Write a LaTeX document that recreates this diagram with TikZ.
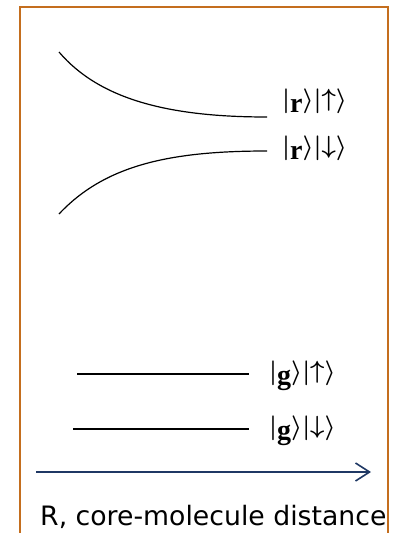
\documentclass[tikz,border=0pt]{standalone}
\usepackage{fontspec}
\setmainfont{Liberation Serif}
\newfontfamily\capfont{DejaVu Sans}
\usetikzlibrary{positioning,arrows.meta,calc}

\definecolor{framebrown}{RGB}{196,110,30}
\definecolor{axisblue}{RGB}{31,56,100}

% |x>|s>
\newcommand{\brk}[1]{\raisebox{.16em}{\fontsize{23}{26}\selectfont$#1$}}
\newcommand{\spinarr}[1]{\raisebox{.19em}{\fontsize{25}{28}\selectfont$#1$}}
\newcommand{\twoket}[2]{\brk{|}#1\brk{\rangle}\brk{|}\spinarr{#2}\brk{\rangle}}

\begin{document}
\begin{tikzpicture}[
    x=1pt, y=-1pt,
    level/.style={line width=1.2pt, black},
    ket/.style={
        font=\fontsize{28}{30}\selectfont\bfseries\boldmath,
        anchor=base west,
        inner sep=0pt
    },
    axis/.style={-{Straight Barb[length=14pt,width=18pt,line width=1.6pt]}, line width=1.8pt, axisblue},
    caption/.style={font=\capfont\fontsize{26.7}{30}\selectfont, inner sep=0pt}
]
\useasboundingbox (0,0) rectangle (396,533);

% ============================================================
% RAMKA
% ============================================================
\draw[framebrown, line width=2pt] (19.5,540) -- (19.5,7) -- (388,7) -- (388,540);

% ============================================================
% STANY WZBUDZONE
% ============================================================
\node[ket] (rup) at (282,112) {\twoket{r}{\uparrow}};
\node[ket] (rdown) at (282,159) {\twoket{r}{\downarrow}};

\draw[level] (59,52) .. controls (100,100) and (170,117) .. ([xshift=-15pt]rup.west |- 0,117);
\draw[level] (59,214) .. controls (105,165) and (170,151) .. ([xshift=-15pt]rdown.west |- 0,151);

% ============================================================
% STANY PODSTAWOWE
% ============================================================
\node[ket] (gup) at (269,384) {\twoket{g}{\uparrow}};
\node[ket] (gdown) at (269,439) {\twoket{g}{\downarrow}};

\draw[level] (77,374) -- ([xshift=-20pt]gup.west |- 0,374);
\draw[level] (73,429) -- ([xshift=-20pt]gdown.west |- 0,429);

% ============================================================
% OS ODLEGLOSCI
% ============================================================
\coordinate (axstart) at (36,472);
\coordinate (axend) at (371,472);
\draw[axis] (axstart) -- (axend);

\node[caption, anchor=base west] (dist) at (40,525) {R, core-molecule distance};

\end{tikzpicture}
\end{document}
